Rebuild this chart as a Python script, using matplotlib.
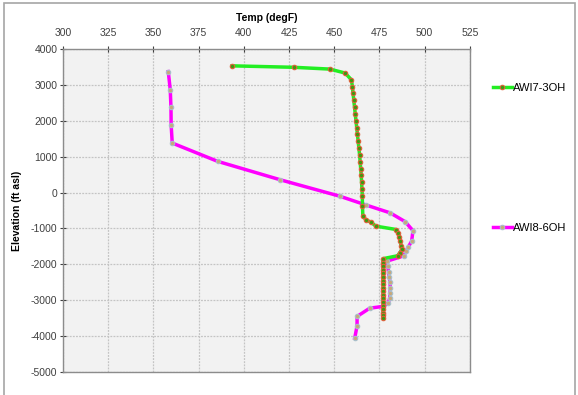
import matplotlib
matplotlib.use("Agg")
import matplotlib.pyplot as plt
from matplotlib.patches import Rectangle

plt.rcParams['font.family'] = ['Liberation Sans', 'DejaVu Sans']
plt.rcParams['axes.unicode_minus'] = False

# AWI7-3OH (green)
awi7_temp = [393.5, 427.5, 447.5, 456.0, 459.5, 460.0, 460.4, 460.8, 461.2, 461.6,
             462.0, 462.4, 462.8, 463.2, 463.6, 464.0, 464.3, 464.6, 464.9, 465.1,
             465.3, 465.5, 465.6, 465.8, 467.8, 470.2, 473.0, 484.4, 485.3, 485.9,
             486.5, 487.0, 487.4, 486.2, 485.0, 477.0, 476.9, 476.9, 477.0, 477.0,
             476.9, 477.0, 477.0, 477.1, 477.0, 477.0, 476.9, 477.0, 477.0, 477.0,
             476.9, 477.0, 476.9]
awi7_elev = [3530, 3490, 3440, 3330, 3140, 2950, 2760, 2570, 2380, 2190,
             2000, 1810, 1620, 1430, 1240, 1050, 860, 670, 480, 290,
             100, -90, -380, -660, -770, -820, -935, -1030, -1120, -1240,
             -1360, -1490, -1580, -1680, -1760, -1840, -1950, -2050, -2150, -2250,
             -2350, -2450, -2550, -2650, -2750, -2850, -2950, -3050, -3150, -3250,
             -3350, -3420, -3480]

# AWI8-6OH (magenta)
awi8_temp = [358.2, 359.3, 359.7, 359.8, 360.4, 385.5, 419.9, 453.0, 467.8, 480.9,
             489.2, 493.5, 492.8, 491.0, 489.7, 488.5, 479.2, 479.6, 480.0, 480.4,
             480.8, 481.0, 480.8, 480.6, 479.8, 477.0, 469.6, 462.6, 462.6, 461.3]
awi8_elev = [3370, 2870, 2370, 1880, 1380, 870, 360, -100, -350, -565,
             -810, -1060, -1350, -1510, -1630, -1760, -1910, -2050, -2200, -2350,
             -2500, -2650, -2800, -2950, -3070, -3170, -3220, -3450, -3710, -4060]

xticks = [300, 325, 350, 375, 400, 425, 450, 475, 500, 525]
yticks = [4000, 3000, 2000, 1000, 0, -1000, -2000, -3000, -4000, -5000]

fig = plt.figure(figsize=(5.78, 3.95), dpi=100)
fig.patch.set_facecolor('white')
# chart area border (bottom edge runs off the image)
fig.add_artist(Rectangle((0.007, -0.05), 0.988, 1.043, transform=fig.transFigure,
                         fill=False, edgecolor='#a6a6a6', linewidth=1.2))

ax = fig.add_axes([0.109, 0.058, 0.704, 0.818])
ax.set_facecolor('#f2f2f2')

l7, = ax.plot(awi7_temp, awi7_elev, color='#22ee22', linewidth=2.5,
              marker='o', markersize=3.2, markerfacecolor='#3d9a10',
              markeredgecolor='#e0603a', markeredgewidth=0.8, zorder=3)
l8, = ax.plot(awi8_temp, awi8_elev, color='#ff00ff', linewidth=2.5,
              marker='o', markersize=3.2, markerfacecolor='#c8a878',
              markeredgecolor='#a8c0cc', markeredgewidth=0.8, zorder=2)

ax.set_xlim(300, 525)
ax.set_ylim(-5000, 4000)
ax.set_xticks(xticks)
ax.set_yticks(yticks)
ax.xaxis.tick_top()
ax.xaxis.set_label_position('top')
ax.tick_params(axis='both', labelsize=7.5, colors='#404040', direction='inout',
               length=4, width=0.8, pad=2)
ax.tick_params(axis='x', pad=6)
ax.set_xlabel('Temp (degF)', fontsize=7.5, fontweight='bold', labelpad=5)
ax.set_ylabel('Elevation (ft asl)', fontsize=7.5, fontweight='bold', labelpad=6)
ax.grid(True, color='#c4c4c4', linestyle=(0, (1.5, 1)), linewidth=0.9)
ax.set_axisbelow(True)
for s in ax.spines.values():
    s.set_color('#8c8c8c')
    s.set_linewidth(1.0)

fig.legend(handles=[l7], labels=['AWI7-3OH'], loc='center left',
           bbox_to_anchor=(0.835, 0.777), frameon=False, fontsize=8,
           handlelength=1.7, handletextpad=0.1)
fig.legend(handles=[l8], labels=['AWI8-6OH'], loc='center left',
           bbox_to_anchor=(0.835, 0.423), frameon=False, fontsize=8,
           handlelength=1.7, handletextpad=0.1)

fig.savefig('out.png', dpi=100)
